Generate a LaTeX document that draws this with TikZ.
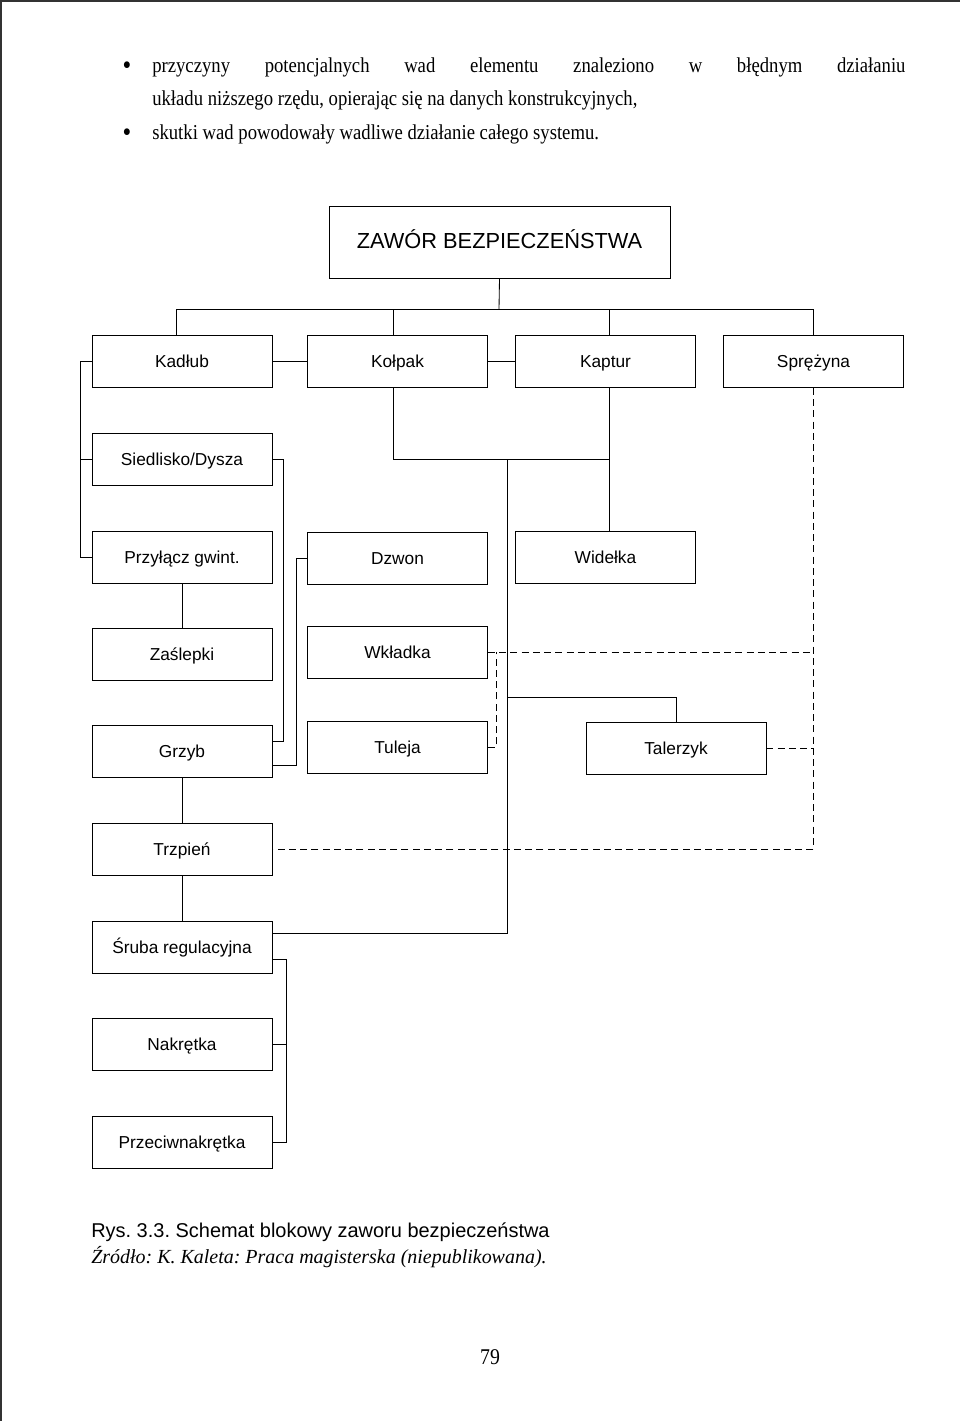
\documentclass[tikz,border=0pt]{standalone}
\usepackage{fontspec}
\setmainfont{Liberation Serif}
\newfontfamily\bodyfont[FakeStretch=0.88]{Liberation Serif}
\newfontfamily\boxfont{Liberation Sans}
\usepackage{xcolor}
\usepackage{tikz}
\frenchspacing

\begin{document}
\begin{tikzpicture}[
    x=0.025cm, y=-0.025cm,
    part/.style={rectangle, draw, line width=0.6pt, minimum width=4.5cm, minimum height=1.3cm, align=center,
        text height=10.5pt, text depth=1.5pt, font=\boxfont\fontsize{12.3}{14}\selectfont},
    link/.style={line width=0.6pt},
    dlink/.style={line width=0.6pt, dash pattern=on 5pt off 3pt},
    body/.style={anchor=base west, inner sep=0, font=\bodyfont\fontsize{15.1}{18}\selectfont}
]
    \useasboundingbox (0,0) rectangle (960,1421);
    \draw[line width=1.5pt, black!80] (0,1) -- (960,1);
    \draw[line width=1.2pt, black!80] (1,0) -- (1,1421);

    % Text above
    \node[anchor=base, font=\bodyfont\fontsize{20}{20}\selectfont] (b1) at (127,74) {\textbullet};
    \node[body] (t1) at (152,72)
        {\makebox[18.825cm][s]{przyczyny potencjalnych wad elementu znaleziono w błędnym działaniu}};
    \node[body] (t2) at (152,105)
        {układu niższego rzędu, opierając się na danych konstrukcyjnych,};
    \node[anchor=base, font=\bodyfont\fontsize{20}{20}\selectfont] (b2) at (127,141) {\textbullet};
    \node[body] (t3) at (152,139)
        {skutki wad powodowały wadliwe działanie całego systemu.};

    % Top box
    \node[part, minimum width=8.525cm, minimum height=1.8cm, text height=12pt, text depth=3pt,
        font=\boxfont\fontsize{15.5}{18}\selectfont] (zawor) at (499.5,242) {ZAWÓR BEZPIECZEŃSTWA};

    % First row
    \node[part] (kadlub) at (182,361.5) {Kadłub};
    \node[part] (kolpak) at (397.5,361.5) {Kołpak};
    \node[part] (kaptur) at (605.5,361.5) {Kaptur};
    \node[part] (sprezyna) at (813.5,361.5) {Sprężyna};

    % Left column
    \node[part] (siedlisko) at (182,459) {Siedlisko/Dysza};
    \node[part] (przylacz) at (182,557) {Przyłącz gwint.};
    \node[part] (zaslepki) at (182,654) {Zaślepki};
    \node[part] (grzyb) at (182,751.5) {Grzyb};
    \node[part] (trzpien) at (182,849) {Trzpień};
    \node[part] (sruba) at (182,947) {Śruba regulacyjna};
    \node[part] (nakretka) at (182,1044.5) {Nakrętka};
    \node[part] (przeciw) at (182,1142) {Przeciwnakrętka};

    % Middle column
    \node[part] (dzwon) at (397.5,558) {Dzwon};
    \node[part] (wkladka) at (397.5,652) {Wkładka};
    \node[part] (tuleja) at (397.5,747.5) {Tuleja};

    % Right side
    \node[part] (widelka) at (605.5,557) {Widełka};
    \node[part] (talerzyk) at (676,748) {Talerzyk};

    % Caption
    \node[anchor=base west, inner sep=0, font=\boxfont\fontsize{14.2}{17}\selectfont] (rys) at (91,1237)
        {Rys. 3.3. Schemat blokowy zaworu bezpieczeństwa};
    \node[anchor=base west, inner sep=0, font=\itshape\fontsize{14.2}{17}\selectfont] (zrodlo) at (91,1263)
        {Źródło: K. Kaleta: Praca magisterska (niepublikowana).};
    \node[anchor=base, inner sep=0, font=\bodyfont\fontsize{16}{18}\selectfont] (strona) at (490,1364) {79};

    % Helper points
    \coordinate (bus) at (499,309);
    \coordinate (lb) at (80,0);
    \coordinate (sg) at (283,0);
    \coordinate (dg) at (296,0);
    \coordinate (j1) at (507,459);
    \coordinate (tj) at (507,697);
    \coordinate (wt) at (496,652);
    \coordinate (sr) at (286,0);

    % Solid links
    \draw[link] (zawor.south) -- (bus);
    \draw[link] ([xshift=-0.15cm]kadlub.north) |- (sprezyna.north |- bus) -- (sprezyna.north);
    \draw[link] ([xshift=-0.11cm]kolpak.north) -- ([xshift=-0.11cm]kolpak.north |- bus);
    \draw[link] ([xshift=0.1cm]kaptur.north) -- ([xshift=0.1cm]kaptur.north |- bus);
    \draw[link] (kadlub.east) -- (kolpak.west);
    \draw[link] (kolpak.east) -- (kaptur.west);
    \draw[link] (kadlub.west) -| (lb |- przylacz.west) -- (przylacz.west);
    \draw[link] (siedlisko.west) -- (lb |- siedlisko.west);
    \draw[link] (siedlisko.east) -- (sg |- siedlisko.east) |- ([yshift=0.26cm]grzyb.east);
    \draw[link] (dzwon.west) -- (dg |- dzwon.west) |- ([yshift=-0.34cm]grzyb.east);
    \draw[link] (przylacz.south) -- (zaslepki.north);
    \draw[link] (grzyb.south) -- (trzpien.north);
    \draw[link] (trzpien.south) -- (sruba.north);
    \draw[link] ([xshift=-0.11cm]kolpak.south) |- ([xshift=0.09cm]kaptur.south |- j1);
    \draw[link] ([xshift=0.09cm]kaptur.south) -- ([xshift=0.09cm]widelka.north);
    \draw[link] (j1) |- ([yshift=0.35cm]sruba.east);
    \draw[link] (talerzyk.north) |- (tj);
    \draw[link] ([yshift=-0.3cm]sruba.east) -| (sr |- przeciw.east) -- (przeciw.east);
    \draw[link] (nakretka.east) -- (sr |- nakretka.east);

    % Dashed links
    \draw[dlink] (sprezyna.south) |- (trzpien.east);
    \draw[dlink] (wkladka.east) -- (sprezyna.south |- wkladka.east);
    \draw[dlink] (tuleja.east) -| (wt);
    \draw[dlink] (talerzyk.east) -- (sprezyna.south |- talerzyk.east);
\end{tikzpicture}
\end{document}
